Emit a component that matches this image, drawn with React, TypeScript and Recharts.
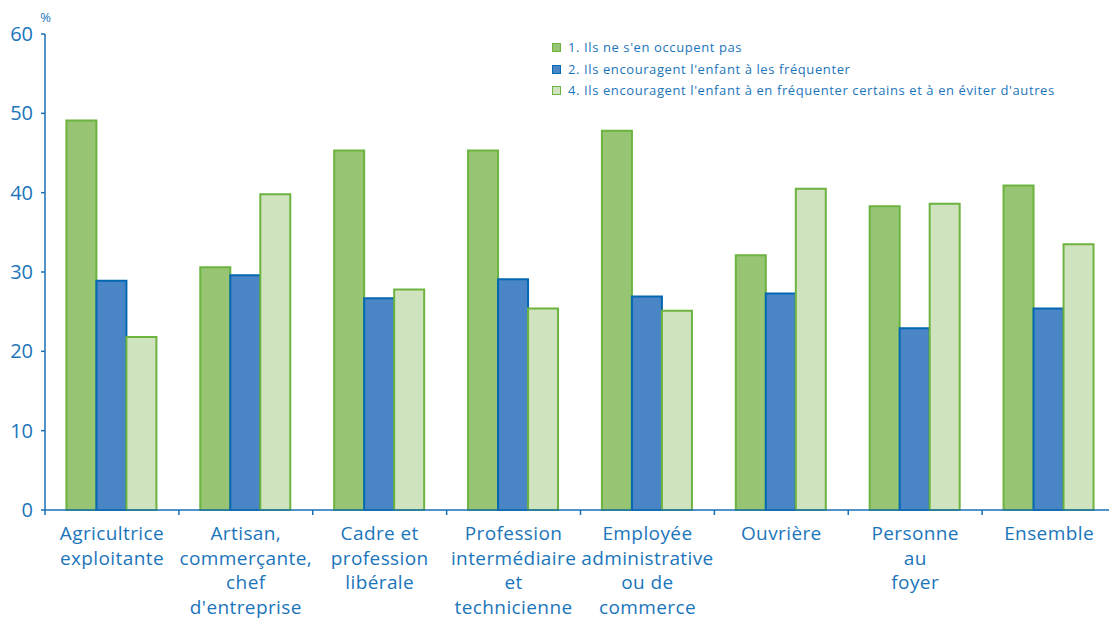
import React from 'react'
import { BarChart, Bar, XAxis, YAxis } from 'recharts'

const categories = [
  'Agricultrice\nexploitante',
  'Artisan,\ncommerçante,\nchef\nd\'entreprise',
  'Cadre et\nprofession\nlibérale',
  'Profession\nintermédiaire\net\ntechnicienne',
  'Employée\nadministrative\nou de\ncommerce',
  'Ouvrière',
  'Personne\nau\nfoyer',
  'Ensemble',
]

const seriesNames = [
  '1. Ils ne s\'en occupent pas',
  '2. Ils encouragent l\'enfant à les fréquenter',
  '4. Ils encouragent l\'enfant à en fréquenter certains et à en éviter d\'autres',
]

const nePasOccuper = [49.1, 30.6, 45.3, 45.3, 47.8, 32.1, 38.3, 40.9]
const encouragent = [28.9, 29.6, 26.7, 29.1, 26.9, 27.3, 22.9, 25.4]
const certains = [21.8, 39.8, 27.8, 25.4, 25.1, 40.5, 38.6, 33.5]

const yTicks = [0, 10, 20, 30, 40, 50, 60]

const BLUE_TEXT = '#1b75bb'
const AXIS = '#1a6fb5'
const FONT = '"Open Sans", "DejaVu Sans", sans-serif'

const COLORS = [
  { fill: '#97c574', stroke: '#6cb33f' },
  { fill: '#4a86c5', stroke: '#0467b1' },
  { fill: '#d0e3bf', stroke: '#6cb33f' },
]

const data = categories.map((c, i) => ({
  name: c,
  s1: nePasOccuper[i],
  s2: encouragent[i],
  s3: certains[i],
}))

function CategoryTick(props: any) {
  const { x, y, payload, band } = props
  const lines = String(payload.value).split('\n')
  const left = x - band / 2
  return (
    <g>
      <line x1={left} y1={510} x2={left} y2={515} stroke={AXIS} strokeWidth={1.5} />
      <text x={x} y={y} textAnchor="middle" fill={BLUE_TEXT} fontSize={19} fontFamily={FONT} letterSpacing={0.4}>
        {lines.map((l, i) => (
          <tspan key={i} x={x} dy={i === 0 ? 22 : 24.6}>{l}</tspan>
        ))}
      </text>
    </g>
  )
}

function LegendBox() {
  return (
    <div style={{ position: 'absolute', left: 552, top: 37, fontFamily: FONT, fontSize: 13, letterSpacing: 0.6, color: BLUE_TEXT, lineHeight: '21.5px' }}>
      {seriesNames.map((n, i) => (
        <div key={n} style={{ display: 'flex', alignItems: 'center', whiteSpace: 'nowrap' }}>
          <span
            style={{
              display: 'inline-block',
              width: 7,
              height: 7,
              background: COLORS[i].fill,
              border: `1.5px solid ${COLORS[i].stroke}`,
              marginRight: 7,
            }}
          />
          {n}
        </div>
      ))}
    </div>
  )
}

export default function App() {
  const width = 1125
  const plotLeft = 45
  const plotRight = 1116
  const band = (plotRight - plotLeft) / categories.length
  return (
    <div style={{ position: 'absolute', left: 0, top: 0, width: 1109, height: 621, overflow: 'hidden', background: '#fff' }}>
      <BarChart
        width={width}
        height={621}
        data={data}
        margin={{ top: 34, right: width - plotRight, bottom: 0, left: 0 }}
        barCategoryGap="16%"
        barGap={0}
      >
        <XAxis
          dataKey="name"
          interval={0}
          height={111}
          axisLine={{ stroke: AXIS, strokeWidth: 1.5 }}
          tickLine={false}
          tick={<CategoryTick band={band} />}
        />
        <YAxis
          width={45}
          domain={[0, 60]}
          ticks={yTicks}
          axisLine={{ stroke: AXIS, strokeWidth: 1.5 }}
          tickLine={{ stroke: AXIS, strokeWidth: 1.5 }}
          tickSize={4}
          tickMargin={8}
          tick={{ fill: BLUE_TEXT, fontSize: 20, fontFamily: FONT }}
          label={{ value: '%', position: 'top', offset: 12, dx: 23, fill: BLUE_TEXT, fontSize: 13, fontFamily: FONT }}
        />
        <Bar dataKey="s1" name={seriesNames[0]} fill={COLORS[0].fill} stroke={COLORS[0].stroke} strokeWidth={2} isAnimationActive={false} />
        <Bar dataKey="s2" name={seriesNames[1]} fill={COLORS[1].fill} stroke={COLORS[1].stroke} strokeWidth={2} isAnimationActive={false} />
        <Bar dataKey="s3" name={seriesNames[2]} fill={COLORS[2].fill} stroke={COLORS[2].stroke} strokeWidth={2} isAnimationActive={false} />
      </BarChart>
      <LegendBox />
    </div>
  )
}
